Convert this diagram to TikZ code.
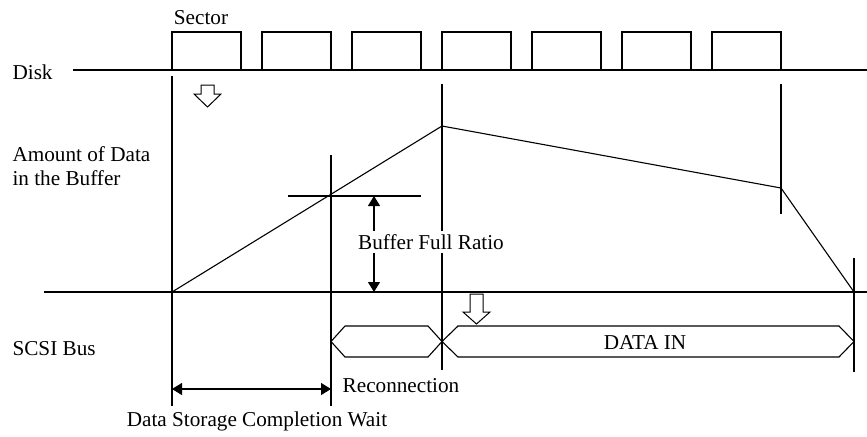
\documentclass[tikz,border=0pt]{standalone}
\usepackage{fontspec}
\setmainfont{Liberation Serif}
\usetikzlibrary{arrows.meta, positioning, calc}

\begin{document}
\begin{tikzpicture}[x=0.5pt, y=-0.5pt, line width=0.55pt,
    every node/.style={font=\fontsize{10.6}{12}\selectfont, inner sep=1pt},
    hollow/.style={draw, fill=white, line width=0.5pt},
    dim/.style={{Triangle[length=5pt,width=6pt]}-{Triangle[length=5pt,width=6pt]}}]

    \useasboundingbox (0,0) rectangle (867,436);

    % time marks
    \coordinate (Start) at (172,292);
    \coordinate (Peak)  at (442,126);
    \coordinate (Knee)  at (781,188);
    \coordinate (End)   at (854,292);
    \coordinate (Full)  at (331,196);

    % disk track
    \node[anchor=west] (disk) at (10,72) {Disk};
    \coordinate (D0) at (73,70);
    \coordinate (D1) at (867,70);
    \draw (D0) -- (D1);
    \foreach \i in {0,...,6}
        \draw[fill=white] (172+90*\i,70) rectangle ++(69,-38);
    \node (sector) at (201,18) {Sector};

    % vertical marks
    \draw (172,76) -- (172,406);
    \draw (331,155) -- (331,406);
    \draw (442,84)  -- (442,370);
    \draw (781,84)  -- (781,214);
    \draw (854,258) -- (854,372);

    % buffer
    \node[anchor=west, align=left] (amount) at (10,166) {Amount of Data\\in the Buffer};
    \draw (44,292) -- (867,292);
    \draw (Start) -- (Peak) -- (Knee) -- (End);
    \draw (288,196) -- (421,196);
    \draw[dim] (374,196) -- (374,292);
    \node[fill=white, inner sep=1.5pt] (ratio) at (431,242) {Buffer Full Ratio};

    % hollow arrows
    \draw[hollow] (201,85) -- (214,85) -- (214,94) -- (221,94) -- (207.5,107)
        -- (194,94) -- (201,94) -- cycle;
    \draw[hollow] (470,294) -- (483,294) -- (483,312) -- (490,312) -- (476.5,324)
        -- (463,312) -- (470,312) -- cycle;

    % SCSI bus
    \node[anchor=west] (scsi) at (10,349) {SCSI Bus};
    \draw (331,341.5) -- (345,326) -- (428,326) -- (442,341.5) -- (428,357)
        -- (345,357) -- cycle;
    \draw (442,341.5) -- (458,326) -- (839,326) -- (854,341.5) -- (839,357)
        -- (458,357) -- cycle;
    \node (datain) at (645,343) {DATA IN};
    \node (reconn) at (401,386) {Reconnection};

    % wait
    \draw[dim] (172,389) -- (331,389);
    \node (wait) at (257,421) {Data Storage Completion Wait};

\end{tikzpicture}
\end{document}
